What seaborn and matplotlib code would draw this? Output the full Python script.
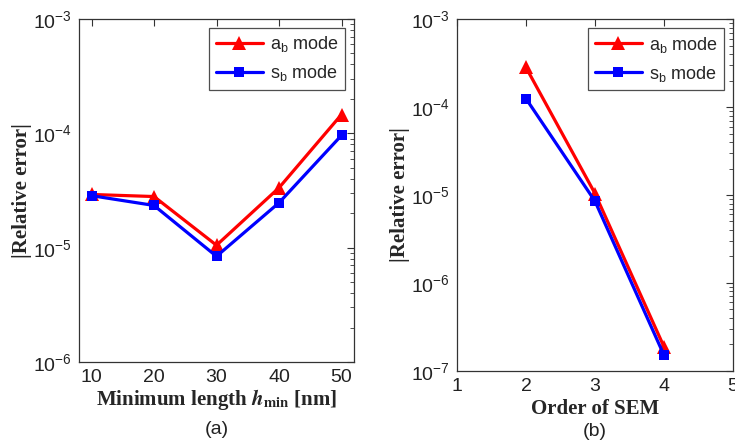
import numpy as np
import pandas as pd
import matplotlib
matplotlib.use("Agg")
import matplotlib.pyplot as plt
import seaborn as sns
from matplotlib.ticker import LogLocator, NullFormatter, FixedLocator

# Panel (a): error versus minimum element length
h_min = [10, 20, 30, 40, 50]
err_a_h = [2.92e-5, 2.80e-5, 1.05e-5, 3.34e-5, 1.46e-4]
err_s_h = [2.85e-5, 2.34e-5, 8.4e-6, 2.47e-5, 9.6e-5]

# Panel (b): error versus SEM order
order = [2, 3, 4]
err_a_o = [2.83e-4, 1.04e-5, 1.87e-7]
err_s_o = [1.25e-4, 8.5e-6, 1.50e-7]

mode_names = ["a", "s"]
mode_labels = [r"a$_\mathregular{b}$ mode", r"s$_\mathregular{b}$ mode"]

sns.set_style("white")
plt.rcParams["font.family"] = ["Liberation Sans", "DejaVu Sans"]
plt.rcParams["mathtext.fontset"] = "custom"
plt.rcParams["mathtext.rm"] = "Liberation Sans"
plt.rcParams["mathtext.it"] = "Liberation Sans:italic"
plt.rcParams["mathtext.bf"] = "Liberation Sans:bold"

df_a = pd.DataFrame({
    "x": h_min * 2,
    "err": err_a_h + err_s_h,
    "mode": [mode_names[0]] * len(h_min) + [mode_names[1]] * len(h_min),
})
df_b = pd.DataFrame({
    "x": order * 2,
    "err": err_a_o + err_s_o,
    "mode": [mode_names[0]] * len(order) + [mode_names[1]] * len(order),
})

palette = {"a": "#ff0000", "s": "#0000ff"}
markers = {"a": "^", "s": "s"}
msizes = {"a": 10.5, "s": 7.5}

fig = plt.figure(figsize=(7.35, 4.42), dpi=100)
ax1 = fig.add_axes([79 / 735, (442 - 362) / 442, 275 / 735, 343 / 442])
ax2 = fig.add_axes([457 / 735, (442 - 370.7) / 442, 276 / 735, 351.4 / 442])


def draw(ax, df):
    for m in mode_names:
        sns.lineplot(data=df[df["mode"] == m], x="x", y="err",
                     color=palette[m], marker=markers[m], linewidth=2.3,
                     markersize=msizes[m], markeredgewidth=0,
                     ax=ax, legend=False)
    ax.set_yscale("log")
    for sp in ax.spines.values():
        sp.set_visible(True)
        sp.set_color("#333333")
        sp.set_linewidth(0.9)
    ax.tick_params(which="both", direction="in", top=True, right=True,
                   color="#333333", labelsize=14, labelcolor="#222222")
    ax.tick_params(which="major", length=5, width=0.8, pad=5)
    ax.tick_params(which="minor", length=3, width=0.6)
    ax.yaxis.set_minor_locator(LogLocator(base=10, subs=np.arange(2, 10)))
    ax.yaxis.set_minor_formatter(NullFormatter())
    ax.set_ylabel("|Relative error|", family="Liberation Serif",
                  fontweight="bold", fontsize=15, labelpad=1)
    handles = [
        plt.Line2D([], [], color=palette[m], marker=markers[m], lw=2.3,
                   ms=msizes[m], mew=0)
        for m in mode_names
    ]
    leg = ax.legend(handles, mode_labels, loc="upper right", fontsize=13,
                    frameon=True, fancybox=False, edgecolor="#222222",
                    handlelength=2.6, borderpad=0.35, labelspacing=0.5,
                    handletextpad=0.4, borderaxespad=0.5)
    leg.get_frame().set_linewidth(0.9)


draw(ax1, df_a)
ax1.set_xlim(8, 52)
ax1.set_ylim(1e-6, 1e-3)
ax1.xaxis.set_major_locator(FixedLocator(h_min))
ax1.set_xlabel(r"Minimum length $\mathbfit{h}_{\mathbf{min}}$ [nm]",
               family="Liberation Serif", fontweight="bold", fontsize=15,
               math_fontfamily="stix", labelpad=1)
fig.text((79 + 354) / 2 / 735, 1 - 429 / 442, "(a)", ha="center",
         va="center", fontsize=14, color="#222222")

draw(ax2, df_b)
ax2.set_xlim(1, 5)
ax2.set_ylim(1e-7, 1e-3)
ax2.xaxis.set_major_locator(FixedLocator([1, 2, 3, 4, 5]))
ax2.set_xlabel("Order of SEM", family="Liberation Serif", fontweight="bold",
               fontsize=15, labelpad=3)
fig.text((457 + 733) / 2 / 735, 1 - 431 / 442, "(b)", ha="center",
         va="center", fontsize=14, color="#222222")

fig.savefig("out.png", dpi=100)
